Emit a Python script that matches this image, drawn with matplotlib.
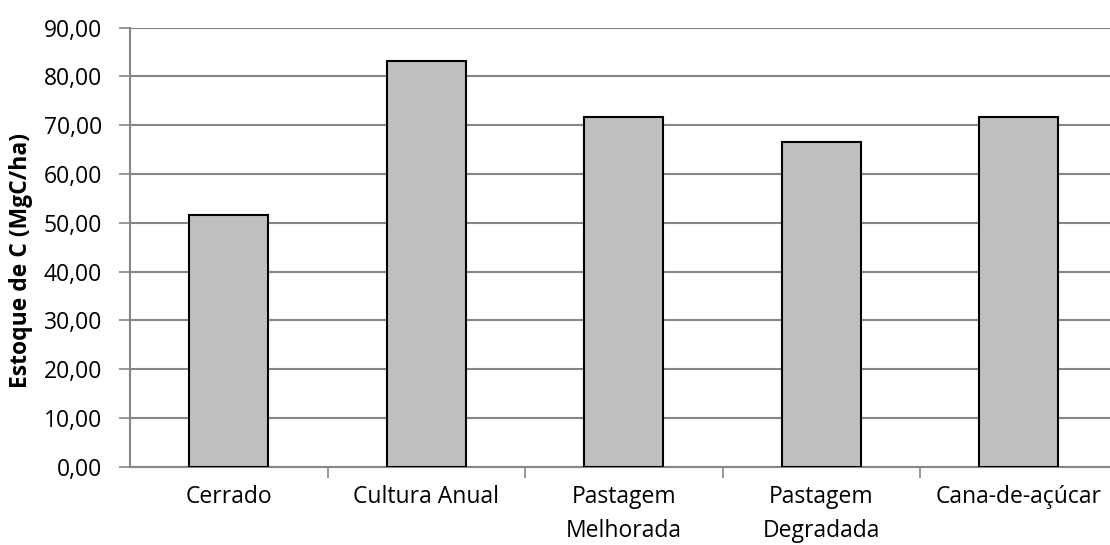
import numpy as np
import matplotlib
matplotlib.use("Agg")
import matplotlib.pyplot as plt

categorias = ["Cerrado", "Cultura Anual", "Pastagem\nMelhorada", "Pastagem\nDegradada", "Cana-de-açúcar"]
estoque = [51.6, 83.1, 71.7, 66.5, 71.7]
yticks = np.arange(0, 91, 10)

plt.rcParams["font.family"] = ["Open Sans", "DejaVu Sans"]
cinza = "#868686"
fs = 16.5

fig = plt.figure(figsize=(11.1, 5.45), dpi=100)
# o eixo se estende um pouco além da borda direita
ax = fig.add_axes([130 / 1110, 78.3 / 545, 987.5 / 1110, 439 / 545])

x = np.arange(len(categorias))
ax.bar(x, estoque, width=0.4, color="#BFBFBF", edgecolor="black", linewidth=1.5, zorder=3)

ax.set_xlim(-0.5, len(categorias) - 0.5)
ax.set_ylim(0, 90)
ax.set_yticks(yticks)
ax.set_yticklabels([f"{v:.2f}".replace(".", ",") for v in yticks], fontsize=fs)
ax.set_xticks(x)
ax.set_xticklabels(categorias, fontsize=fs, linespacing=1.55, va="top")
ax.set_xticks(np.arange(0.5, len(categorias) - 0.5), minor=True)

ax.grid(axis="y", color=cinza, linewidth=1.5, zorder=0)
ax.tick_params(axis="x", which="major", length=0, pad=13)
ax.tick_params(axis="x", which="minor", length=8, width=1.2, color=cinza)
ax.tick_params(axis="y", length=8, width=1.2, color=cinza, pad=12)

for s in ["top", "right"]:
    ax.spines[s].set_visible(False)
for s in ["left", "bottom"]:
    ax.spines[s].set_color(cinza)
    ax.spines[s].set_linewidth(1.5)

ax.set_ylabel("Estoque de C (MgC/ha)", fontsize=fs, fontweight="bold")
ax.yaxis.set_label_coords(-0.098, 0.47)

fig.savefig("out.png", dpi=100)
